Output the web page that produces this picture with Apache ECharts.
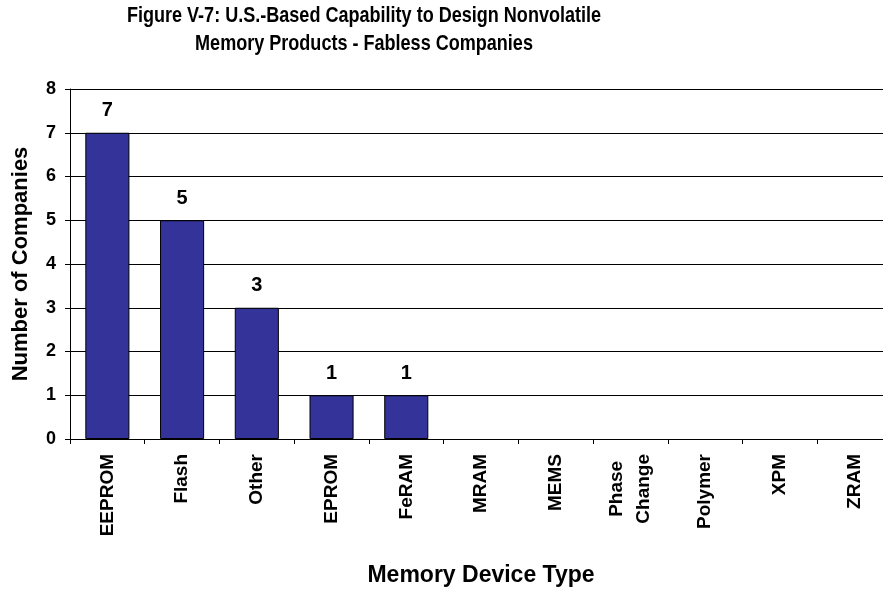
<!DOCTYPE html>
<html>
<head>
<meta charset="utf-8">
<script src="https://cdn.jsdelivr.net/npm/echarts@6/dist/echarts.min.js"></script>
<style>
  html, body { margin: 0; padding: 0; background: #fff; }
  #chart { width: 883px; height: 590px; }
</style>
</head>
<body>
<div id="chart"></div>
<script>
// Memory device types designed by U.S. fabless companies
const categories = ['EEPROM', 'Flash', 'Other', 'EPROM', 'FeRAM', 'MRAM', 'MEMS', 'Phase\nChange', 'Polymer', 'XPM', 'ZRAM'];
const companyCounts = [7, 5, 3, 1, 1, 0, 0, 0, 0, 0, 0];
const yTicks = [0, 1, 2, 3, 4, 5, 6, 7, 8];
const titleText = 'Figure V-7: U.S.-Based Capability to Design Nonvolatile\nMemory Products - Fabless Companies';

const FONT = '"Liberation Sans", Arial, sans-serif';

// empty categories get no outline so nothing is drawn on the baseline
const barData = companyCounts.map(function (v) {
  return v > 0 ? { value: v } : { value: v, itemStyle: { borderWidth: 0, opacity: 0 } };
});

const chart = echarts.init(document.getElementById('chart'), null, { renderer: 'canvas' });

chart.setOption({
  animation: false,
  backgroundColor: '#ffffff',
  // condensed bold title: horizontally squeezed text
  graphic: [{
    type: 'text',
    x: 364,
    y: 2,
    scaleX: 0.82,
    silent: true,
    style: {
      text: titleText,
      textAlign: 'center',
      textVerticalAlign: 'top',
      font: 'bold 22px ' + FONT,
      lineHeight: 28,
      fill: '#000'
    }
  }],
  grid: {
    left: 70,
    top: 89,
    width: 822,
    height: 350,
    outerBoundsMode: 'none',
    containLabel: false
  },
  xAxis: {
    type: 'category',
    data: categories,
    boundaryGap: true,
    name: 'Memory Device Type',
    nameLocation: 'middle',
    nameGap: 125,
    nameTextStyle: {
      fontFamily: FONT,
      fontWeight: 'bold',
      fontSize: 23,
      color: '#000'
    },
    axisLine: { show: true, lineStyle: { color: '#000', width: 1 } },
    axisTick: { show: true, alignWithLabel: false, length: 5, lineStyle: { color: '#000' } },
    axisLabel: {
      interval: 0,
      rotate: 90,
      margin: 15,
      fontFamily: FONT,
      fontWeight: 'bold',
      fontSize: 19,
      color: '#000',
      formatter: function (v) {
        return v.indexOf('\n') >= 0 ? '{c|' + v + '}' : v;
      },
      rich: {
        c: {
          align: 'center',
          fontFamily: FONT,
          fontWeight: 'bold',
          fontSize: 19,
          lineHeight: 27,
          color: '#000'
        }
      }
    },
    splitLine: { show: false }
  },
  yAxis: {
    type: 'value',
    min: yTicks[0],
    max: yTicks[yTicks.length - 1],
    interval: 1,
    name: 'Number of Companies',
    nameLocation: 'middle',
    nameGap: 38,
    nameTextStyle: {
      fontFamily: FONT,
      fontWeight: 'bold',
      fontSize: 22,
      color: '#000'
    },
    axisLine: { show: true, lineStyle: { color: '#000', width: 1 } },
    axisTick: { show: true, length: 5, lineStyle: { color: '#000' } },
    axisLabel: {
      margin: 14,
      fontFamily: FONT,
      fontWeight: 'bold',
      fontSize: 18,
      color: '#000'
    },
    splitLine: { show: true, lineStyle: { color: '#000', width: 1 } }
  },
  series: [{
    type: 'bar',
    data: barData,
    barCategoryGap: '41%',
    itemStyle: {
      color: '#333399',
      borderColor: '#000',
      borderWidth: 1
    },
    label: {
      show: true,
      position: 'top',
      distance: 12,
      fontFamily: FONT,
      fontWeight: 'bold',
      fontSize: 20,
      color: '#000',
      formatter: function (p) { return p.value > 0 ? String(p.value) : ''; }
    }
  }]
});
</script>
</body>
</html>
